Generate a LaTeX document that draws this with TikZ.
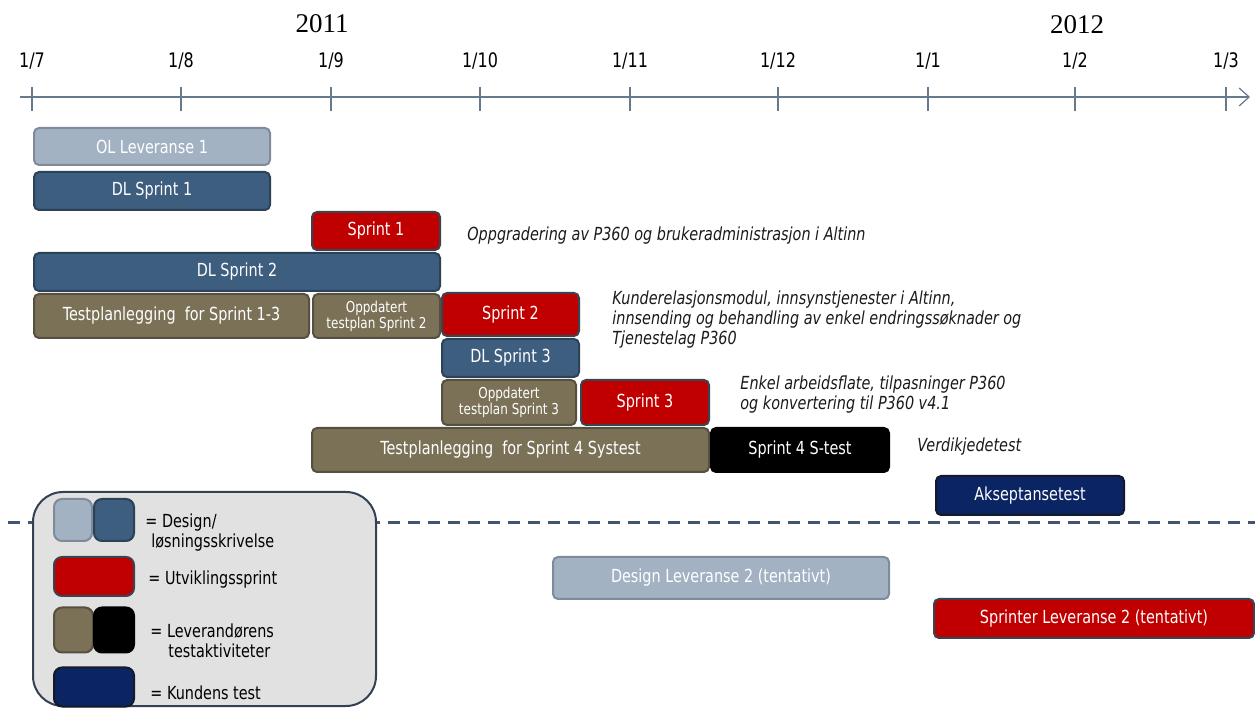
\documentclass[tikz,border=0pt]{standalone}
\usepackage{fontspec}
\setmainfont{Liberation Serif}
\newfontfamily\chartfont[FakeStretch=0.8]{DejaVu Sans}
\usetikzlibrary{arrows.meta}

\definecolor{olgrey}{HTML}{A2B2C3}
\definecolor{olline}{HTML}{7F8B98}
\definecolor{dlblue}{HTML}{3E5E80}
\definecolor{dlline}{HTML}{2B4259}
\definecolor{sprintred}{HTML}{C00000}
\definecolor{sprintline}{HTML}{3B4250}
\definecolor{testkhaki}{HTML}{7A7157}
\definecolor{testline}{HTML}{565040}
\definecolor{kundenavy}{HTML}{0B2463}
\definecolor{kundeline}{HTML}{141A26}
\definecolor{legendgrey}{HTML}{E1E1E1}
\definecolor{legendline}{HTML}{334155}
\definecolor{axisgrey}{HTML}{667A8C}
\definecolor{splitline}{HTML}{44546A}
\definecolor{notegrey}{HTML}{1A1A1A}

\begin{document}
\begin{tikzpicture}[x=0.5pt,y=-0.5pt]
   \tikzset{bar node/.style={rectangle, draw, line width=1pt,
   		rounded corners=2.5pt, text=white, inner sep=0pt,
   		font=\chartfont\fontsize{9pt}{10pt}\selectfont}, }
   \tikzset{ol node/.style={bar node, fill=olgrey, draw=olline}, }
   \tikzset{dl node/.style={bar node, fill=dlblue, draw=dlline}, }
   \tikzset{sprint node/.style={bar node, fill=sprintred, draw=sprintline}, }
   \tikzset{test node/.style={bar node, fill=testkhaki, draw=testline}, }
   \tikzset{stest node/.style={bar node, fill=black, draw=black}, }
   \tikzset{kunde node/.style={bar node, fill=kundenavy, draw=kundeline}, }
   \tikzset{small node/.style={align=center,
   		font=\chartfont\fontsize{7.5pt}{8pt}\selectfont}, }
   \tikzset{note node/.style={anchor=west, inner sep=0pt, align=left,
   		text=notegrey, font=\chartfont\itshape\fontsize{9pt}{10pt}\selectfont}, }
   \tikzset{legend node/.style={anchor=west, inner sep=0pt, align=left,
   		font=\chartfont\fontsize{9pt}{10pt}\selectfont}, }
   \tikzset{swatch node/.style={rectangle, draw, line width=1pt,
   		rounded corners=4pt, inner sep=0pt}, }
   \tikzset{month node/.style={font=\chartfont\fontsize{10pt}{12pt}\selectfont}, }
   \tikzset{year node/.style={font=\fontsize{13.5pt}{16pt}\selectfont}, }
   \tikzset{linea/.style={draw=axisgrey, line width=0.6pt}, }

\useasboundingbox (0,0) rectangle (1255,711);

% timeline
\node[year node] (y2011) at (322,24) {2011};
\node[year node] (y2012) at (1077,25) {2012};
\coordinate (axis start) at (20,97);
\coordinate (axis end) at (1250,97);
\draw[linea, -{Straight Barb[length=5pt,width=9pt]}] (axis start) -- (axis end);
\foreach \x/\m in {32/7,181/8,331/9,480/10,630/11,778/12,928/1,1075/2,1226/3}
{ \draw[linea] (\x,87) -- (\x,111);
  \node[month node] (m\m) at (\x,61) {1/\m}; }

% split line
\coordinate (split start) at (8,523);
\coordinate (split end) at (1255,523);
\draw[splitline, line width=1.5pt, dash pattern=on 6pt off 4pt] (split start) -- (split end);

% bars
\node[ol node, minimum width=118pt, minimum height=18.5pt] (1) at (152,146.5) {OL Leveranse 1};
\node[dl node, minimum width=118pt, minimum height=19pt] (2) at (152,191) {DL Sprint 1};
\node[sprint node, minimum width=64pt, minimum height=19pt] (3) at (376,231) {Sprint 1};
\node[dl node, minimum width=203pt, minimum height=19pt] (4) at (237,272) {DL Sprint 2};
\node[test node, minimum width=137.5pt, minimum height=22pt] (5) at (171.5,316) {Testplanlegging\ \ for Sprint 1-3};
\node[test node, small node, minimum width=63.5pt, minimum height=22pt] (6) at (376.5,316) {Oppdatert\\testplan Sprint 2};
\node[sprint node, minimum width=68.5pt, minimum height=21.5pt] (7) at (510.5,314.5) {Sprint 2};
\node[dl node, minimum width=68.5pt, minimum height=19pt] (8) at (510.5,358) {DL Sprint 3};
\node[test node, small node, minimum width=67pt, minimum height=22.5pt] (9) at (509,402.5) {Oppdatert\\testplan Sprint 3};
\node[sprint node, minimum width=64pt, minimum height=22.5pt] (10) at (645,402.5) {Sprint 3};
\node[test node, minimum width=198.5pt, minimum height=22pt] (11) at (510.5,450) {Testplanlegging\ \ for Sprint 4 Systest};
\node[stest node, minimum width=89pt, minimum height=22pt] (12) at (800,450) {Sprint 4 S-test};
\node[kunde node, minimum width=94pt, minimum height=19.5pt] (13) at (1030,495.5) {Akseptansetest};
\node[ol node, minimum width=168pt, minimum height=21pt] (14) at (721,578) {Design Leveranse 2 (tentativt)};
\node[sprint node, minimum width=160pt, minimum height=19.5pt] (15) at (1094,618.5) {Sprinter Leveranse 2 (tentativt)};

% notes
\node[note node] (n1) at (467,236) {Oppgradering av P360 og brukeradministrasjon i Altinn};
\node[note node] (n2) at (612,320) {Kunderelasjonsmodul, innsynstjenester i Altinn,\\innsending og behandling av enkel endringssøknader og\\Tjenestelag P360};
\node[note node] (n3) at (740,394.5) {Enkel arbeidsflate, tilpasninger P360\\og konvertering til P360 v4.1};
\node[note node] (n4) at (917,447) {Verdikjedetest};

% legend
\node[swatch node, fill=legendgrey, draw=legendline, rounded corners=15pt,
      minimum width=171.5pt, minimum height=107pt] (lg) at (204.5,599) {};
\node[swatch node, fill=olgrey, draw=olline, minimum width=19pt, minimum height=21pt] (l1a) at (73,520) {};
\node[swatch node, fill=dlblue, draw=dlline, minimum width=20pt, minimum height=21pt] (l1b) at (114,520) {};
\node[swatch node, fill=sprintred, draw=sprintline, minimum width=40pt, minimum height=19.5pt] (l2) at (94,576.5) {};
\node[swatch node, fill=testkhaki, draw=testline, minimum width=19.5pt, minimum height=22.5pt] (l3a) at (73.5,630) {};
\node[swatch node, fill=black, draw=black, minimum width=20pt, minimum height=22.5pt] (l3b) at (114,630) {};
\node[swatch node, fill=kundenavy, draw=kundeline, minimum width=40pt, minimum height=19.5pt] (l4) at (94,687) {};
\node[legend node] (t1) at (145,533) {= Design/\\\hspace*{3pt}løsningsskrivelse};
\node[legend node] (t2) at (148,580) {= Utviklingssprint};
\node[legend node] (t3) at (150,641) {= Leverandørens\\\hspace*{9pt}testaktiviteter};
\node[legend node] (t4) at (150,693) {= Kundens test};
\end{tikzpicture}
\end{document}
